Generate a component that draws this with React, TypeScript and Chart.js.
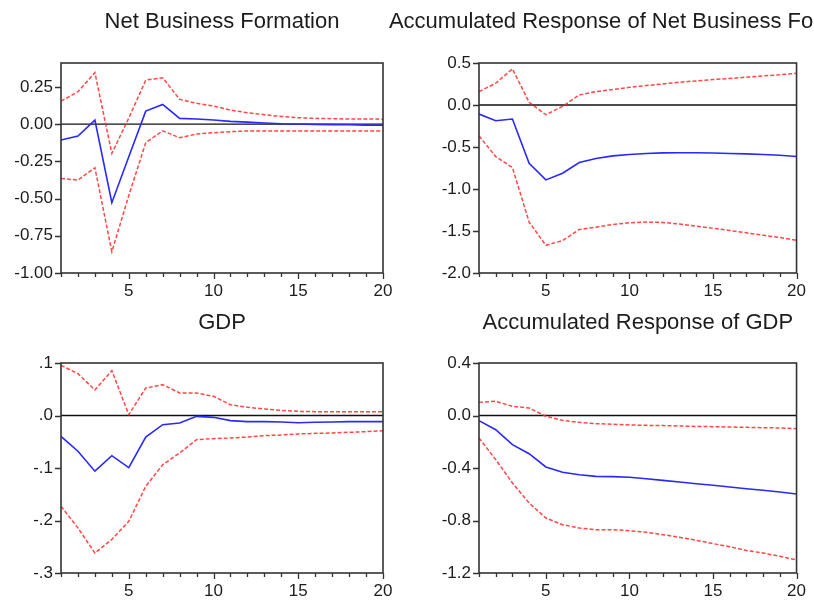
import React, { useEffect, useRef } from "react";
import { Chart, registerables } from "chart.js";

Chart.register(...registerables);

// Forecast horizon (periods after the shock)
const horizons = [1, 2, 3, 4, 5, 6, 7, 8, 9, 10, 11, 12, 13, 14, 15, 16, 17, 18, 19, 20];
const xTickValues = [5, 10, 15, 20];

// Response of Net Business Formation
const nbfResp = [-0.107, -0.08, 0.027, -0.528, -0.22, 0.087, 0.132, 0.038, 0.034, 0.027, 0.018, 0.013, 0.007, 0.002, 0.0, -0.002, -0.004, -0.005, -0.007, -0.008];
const nbfUpper = [0.154, 0.217, 0.345, -0.197, 0.04, 0.295, 0.311, 0.166, 0.139, 0.121, 0.094, 0.076, 0.063, 0.051, 0.043, 0.038, 0.036, 0.034, 0.034, 0.033];
const nbfLower = [-0.365, -0.376, -0.293, -0.857, -0.48, -0.125, -0.045, -0.092, -0.067, -0.058, -0.051, -0.046, -0.046, -0.046, -0.046, -0.046, -0.046, -0.046, -0.046, -0.046];
const nbfTicks = [0.25, 0, -0.25, -0.5, -0.75, -1.0];
const nbfTickLabels = ["0.25", "0.00", "-0.25", "-0.50", "-0.75", "-1.00"];

// Accumulated response of Net Business Formation
const accNbfResp = [-0.108, -0.187, -0.167, -0.693, -0.892, -0.813, -0.685, -0.637, -0.606, -0.59, -0.578, -0.57, -0.568, -0.568, -0.572, -0.578, -0.582, -0.59, -0.598, -0.613];
const accNbfUpper = [0.159, 0.259, 0.43, 0.032, -0.116, -0.016, 0.12, 0.159, 0.183, 0.211, 0.231, 0.251, 0.271, 0.287, 0.303, 0.315, 0.331, 0.347, 0.359, 0.378];
const accNbfLower = [-0.367, -0.614, -0.745, -1.394, -1.67, -1.614, -1.482, -1.454, -1.422, -1.402, -1.394, -1.398, -1.418, -1.442, -1.466, -1.494, -1.522, -1.55, -1.578, -1.61];
const accNbfTicks = [0.5, 0, -0.5, -1.0, -1.5, -2.0];
const accNbfTickLabels = ["0.5", "0.0", "-0.5", "-1.0", "-1.5", "-2.0"];

// Response of GDP
const gdpResp = [-0.0397, -0.068, -0.106, -0.0765, -0.0994, -0.041, -0.0175, -0.0143, -0.0016, -0.0035, -0.0098, -0.0117, -0.0117, -0.0124, -0.0137, -0.013, -0.0124, -0.0117, -0.0117, -0.0117];
const gdpUpper = [0.0956, 0.0797, 0.0486, 0.0854, 0.0016, 0.0524, 0.0587, 0.0429, 0.0429, 0.0365, 0.0206, 0.0156, 0.0124, 0.0098, 0.0079, 0.0073, 0.0073, 0.0073, 0.0073, 0.0073];
const gdpLower = [-0.173, -0.214, -0.262, -0.236, -0.2016, -0.135, -0.0937, -0.0714, -0.046, -0.0441, -0.0429, -0.041, -0.0384, -0.0371, -0.0352, -0.034, -0.0333, -0.032, -0.0308, -0.0289];
const gdpTicks = [0.1, 0, -0.1, -0.2, -0.3];
const gdpTickLabels = [".1", ".0", "-.1", "-.2", "-.3"];

// Accumulated response of GDP
const accGdpResp = [-0.039, -0.108, -0.222, -0.291, -0.392, -0.433, -0.451, -0.464, -0.466, -0.471, -0.482, -0.494, -0.507, -0.52, -0.532, -0.545, -0.558, -0.57, -0.583, -0.598];
const accGdpUpper = [0.1, 0.108, 0.07, 0.057, -0.006, -0.037, -0.052, -0.062, -0.067, -0.072, -0.075, -0.077, -0.08, -0.083, -0.085, -0.088, -0.09, -0.093, -0.095, -0.1];
const accGdpLower = [-0.171, -0.336, -0.514, -0.667, -0.781, -0.832, -0.857, -0.87, -0.87, -0.878, -0.89, -0.908, -0.928, -0.951, -0.976, -1.0, -1.028, -1.048, -1.073, -1.1];
const accGdpTicks = [0.4, 0, -0.4, -0.8, -1.2];
const accGdpTickLabels = ["0.4", "0.0", "-0.4", "-0.8", "-1.2"];

const PAGE_W = 814;
const PAGE_H = 601;
const Y_AXIS_W = 60;
const X_AXIS_H = 26;
const FONT = '"Liberation Sans", Arial, sans-serif';
const TEXT = "#1c1c1c";
const BLUE = "rgb(40,40,255)";
const RED = "rgba(255,40,40,0.85)";

type PanelSpec = {
  title: string;
  titleY: number;
  area: { left: number; top: number; right: number; bottom: number };
  yMin: number;
  yMax: number;
  ticks: number[];
  tickLabels: string[];
  resp: number[];
  upper: number[];
  lower: number[];
};

const panels: PanelSpec[] = [
  {
    title: "Net Business Formation",
    titleY: 22,
    area: { left: 61, top: 63, right: 383, bottom: 273 },
    yMin: -1.0,
    yMax: 0.41,
    ticks: nbfTicks,
    tickLabels: nbfTickLabels,
    resp: nbfResp,
    upper: nbfUpper,
    lower: nbfLower,
  },
  {
    title: "Accumulated Response of Net Business Formation",
    titleY: 22,
    area: { left: 479, top: 63, right: 799, bottom: 273 },
    yMin: -2.0,
    yMax: 0.5,
    ticks: accNbfTicks,
    tickLabels: accNbfTickLabels,
    resp: accNbfResp,
    upper: accNbfUpper,
    lower: accNbfLower,
  },
  {
    title: "GDP",
    titleY: 323,
    area: { left: 61, top: 363, right: 383, bottom: 573 },
    yMin: -0.3,
    yMax: 0.1,
    ticks: gdpTicks,
    tickLabels: gdpTickLabels,
    resp: gdpResp,
    upper: gdpUpper,
    lower: gdpLower,
  },
  {
    title: "Accumulated Response of GDP",
    titleY: 323,
    area: { left: 479, top: 363, right: 799, bottom: 573 },
    yMin: -1.2,
    yMax: 0.4,
    ticks: accGdpTicks,
    tickLabels: accGdpTickLabels,
    resp: accGdpResp,
    upper: accGdpUpper,
    lower: accGdpLower,
  },
];

// Frame, zero line, tick marks and the centred panel title
const framePlugin = {
  id: "irfFrame",
  beforeDatasetsDraw(chart: any) {
    const { ctx, chartArea: a, scales } = chart;
    const y0 = scales.y.getPixelForValue(0);
    ctx.save();
    ctx.strokeStyle = "#111";
    ctx.lineWidth = 1.3;
    ctx.beginPath();
    ctx.moveTo(a.left, y0);
    ctx.lineTo(a.right, y0);
    ctx.stroke();
    ctx.restore();
  },
  afterDraw(chart: any, _args: any, opts: any) {
    const { ctx, chartArea: a, scales } = chart;
    ctx.save();
    ctx.strokeStyle = "#333";
    ctx.lineWidth = 1.6;
    ctx.strokeRect(a.left, a.top, a.right - a.left, a.bottom - a.top);

    ctx.lineWidth = 1.3;
    ctx.beginPath();
    for (const t of scales.y.ticks) {
      const py = Math.round(scales.y.getPixelForValue(t.value)) + 0.5;
      ctx.moveTo(a.left - 6, py);
      ctx.lineTo(a.left, py);
    }
    for (const h of horizons) {
      const px = Math.round(scales.x.getPixelForValue(h)) + 0.5;
      const len = h % 5 === 0 ? 6 : 4;
      ctx.moveTo(px, a.bottom);
      ctx.lineTo(px, a.bottom + len);
    }
    ctx.stroke();

    ctx.fillStyle = TEXT;
    ctx.font = `22px ${FONT}`;
    ctx.textAlign = "center";
    ctx.textBaseline = "middle";
    ctx.fillText(opts.text, (a.left + a.right) / 2, opts.y);
    ctx.restore();
  },
};

function Panel({ spec }: { spec: PanelSpec }) {
  const ref = useRef<HTMLCanvasElement>(null);

  useEffect(() => {
    const toPoints = (vals: number[]) => horizons.map((h, i) => ({ x: h, y: vals[i] }));
    const a = spec.area;
    const chart = new Chart(ref.current as HTMLCanvasElement, {
      type: "line",
      data: {
        datasets: [
          {
            data: toPoints(spec.upper),
            borderColor: RED,
            borderWidth: 1.5,
            borderDash: [4, 2],
            pointRadius: 0,
            tension: 0,
          },
          {
            data: toPoints(spec.lower),
            borderColor: RED,
            borderWidth: 1.5,
            borderDash: [4, 2],
            pointRadius: 0,
            tension: 0,
          },
          {
            data: toPoints(spec.resp),
            borderColor: BLUE,
            borderWidth: 1.6,
            pointRadius: 0,
            tension: 0,
          },
        ],
      },
      options: {
        responsive: false,
        animation: false,
        events: [],
        layout: {
          padding: {
            left: a.left - Y_AXIS_W,
            right: PAGE_W - a.right,
            top: a.top,
            bottom: PAGE_H - a.bottom - X_AXIS_H,
          },
        },
        plugins: {
          legend: { display: false },
          tooltip: { enabled: false },
          irfFrame: { text: spec.title, y: spec.titleY },
        } as any,
        scales: {
          x: {
            type: "linear",
            min: 1,
            max: 20,
            afterBuildTicks: (s: any) => {
              s.ticks = xTickValues.map((v) => ({ value: v }));
            },
            afterFit: (s: any) => {
              s.height = X_AXIS_H;
            },
            grid: { display: false, drawTicks: false },
            border: { display: false },
            ticks: {
              color: TEXT,
              font: { family: FONT, size: 17 },
              padding: 8,
              maxRotation: 0,
              autoSkip: false,
              callback: (v: any) => String(v),
            },
          },
          y: {
            type: "linear",
            min: spec.yMin,
            max: spec.yMax,
            afterBuildTicks: (s: any) => {
              s.ticks = spec.ticks.map((v) => ({ value: v }));
            },
            afterFit: (s: any) => {
              s.width = Y_AXIS_W;
            },
            grid: { display: false, drawTicks: false },
            border: { display: false },
            ticks: {
              color: TEXT,
              font: { family: FONT, size: 17 },
              padding: 8,
              autoSkip: false,
              callback: (_v: any, i: number) => spec.tickLabels[i],
            },
          },
        },
      },
      plugins: [framePlugin],
    } as any);
    return () => chart.destroy();
  }, [spec]);

  return (
    <canvas
      ref={ref}
      width={PAGE_W}
      height={PAGE_H}
      style={{ position: "absolute", left: 0, top: 0 }}
    />
  );
}

export default function App() {
  return (
    <div
      style={{
        position: "fixed",
        left: 0,
        top: 0,
        width: PAGE_W,
        height: PAGE_H,
        background: "#fff",
        overflow: "hidden",
      }}
    >
      {panels.map((p) => (
        <Panel key={p.title} spec={p} />
      ))}
    </div>
  );
}
